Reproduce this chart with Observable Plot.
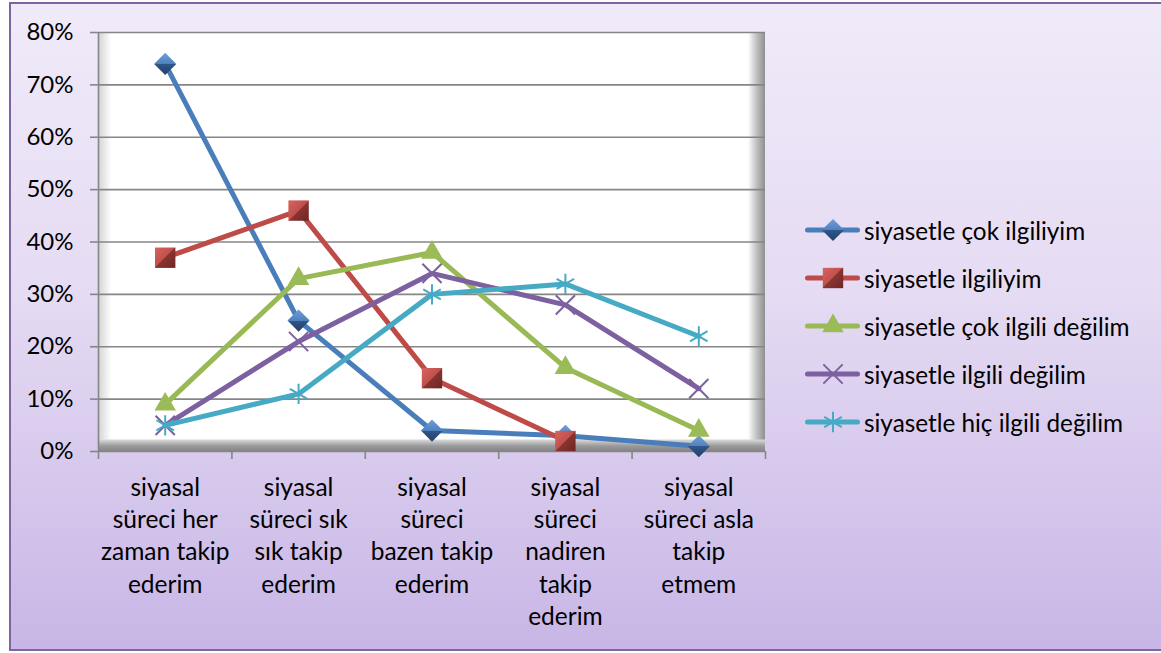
<!DOCTYPE html>
<html><head><meta charset="utf-8">
<script src="https://cdn.jsdelivr.net/npm/d3@7"></script>
<script src="https://cdn.jsdelivr.net/npm/@observablehq/plot@0.6"></script>
<style>
html,body{margin:0;padding:0;}
body{width:1161px;height:653px;position:relative;overflow:hidden;background:#fff;font-family:Lato,sans-serif;}
#frame{position:absolute;left:9px;top:2px;width:1160px;height:645px;border:2px solid #8064A2;border-right:none;
  background:linear-gradient(to bottom,#F0EAF9 0%,#E5DBF3 45%,#C8B6E6 100%);}
#wall{position:absolute;left:98px;top:32px;width:667px;height:419px;
  background:
    linear-gradient(to bottom, rgba(0,0,0,0) 407px, #d6d6d6 408px, #9a9a9a 414px, #858585 419px),
    linear-gradient(to right, rgba(255,255,255,0) 650px, #c4c4c4 658px, #8f8f8f 667px),
    linear-gradient(to right, #d2d2d2 0px, #ffffff 13px);
  background-color:#fff;}
#chart{position:absolute;left:0;top:0;}
#legend{position:absolute;left:805px;top:206px;font-family:Lato,sans-serif;font-size:24.3px;color:#000;}
#legend .row{display:flex;align-items:center;height:48px;white-space:nowrap;}
#legend svg{display:block;margin-right:0px;}
</style></head>
<body>
<div id="frame"></div>
<div id="wall"></div>
<div id="chart"></div>
<div id="legend"></div>
<script>
// ---- data ----
const categories = [
  "siyasal süreci her zaman takip ederim",
  "siyasal süreci sık sık takip ederim",
  "siyasal süreci bazen takip ederim",
  "siyasal süreci nadiren takip ederim",
  "siyasal süreci asla takip etmem"
];
const tickLabels = [
  "siyasal\nsüreci her\nzaman takip\nederim",
  "siyasal\nsüreci sık\nsık takip\nederim",
  "siyasal\nsüreci\nbazen takip\nederim",
  "siyasal\nsüreci\nnadiren\ntakip\nederim",
  "siyasal\nsüreci asla\ntakip\netmem"
];
const seriesNames = [
  "siyasetle çok ilgiliyim",
  "siyasetle ilgiliyim",
  "siyasetle çok ilgili değilim",
  "siyasetle ilgili değilim",
  "siyasetle hiç ilgili değilim"
];
const cokIlgiliyim     = [0.74, 0.25, 0.04, 0.03, 0.01];
const ilgiliyim        = [0.37, 0.46, 0.14, 0.02, null];
const cokIlgiliDegilim = [0.09, 0.33, 0.38, 0.16, 0.04];
const ilgiliDegilim    = [0.05, 0.21, 0.34, 0.28, 0.12];
const hicIlgiliDegilim = [0.05, 0.11, 0.30, 0.32, 0.22];
const yTicks = [0, 0.1, 0.2, 0.3, 0.4, 0.5, 0.6, 0.7, 0.8];

// ---- styles ----
const seriesValues = [cokIlgiliyim, ilgiliyim, cokIlgiliDegilim, ilgiliDegilim, hicIlgiliDegilim];
const styles = [
  {color:"#4A7EBB", symbol:"diamond2", d3symbol:d3.symbolDiamond2, r:10, fill:"url(#gDiamond)", stroke:"none", sw:0},
  {color:"#BE4B48", symbol:"square",   d3symbol:d3.symbolSquare,   r:11.5, fill:"url(#gSquare)", stroke:"none", sw:0},
  {color:"#98B954", symbol:"triangle", d3symbol:d3.symbolTriangle, r:8, fill:"#9BBB59", stroke:"none", sw:0},
  {color:"#7D60A0", symbol:"times",    d3symbol:d3.symbolTimes,    r:8.8, fill:"none", stroke:"#7D60A0", sw:2},
  {color:"#46AAC5", symbol:"asterisk", d3symbol:d3.symbolAsterisk, r:9.6, fill:"none", stroke:"#46AAC5", sw:2}
];

const rows = [];
seriesValues.forEach((vals, s) => vals.forEach((v, i) => rows.push({series: seriesNames[s], s, i, category: categories[i], value: v})));

const marks = [
  Plot.gridY(yTicks, {stroke:"#868686", strokeOpacity:1, strokeWidth:1.6}),
  Plot.ruleX([-0.5], {stroke:"#868686", strokeWidth:1.6}),
  Plot.axisY(yTicks, {tickSize:8, tickPadding:17, tickFormat:d => Math.round(d*100) + "%", stroke:"#868686", strokeWidth:1.6, fill:"#000", fontSize:24, label:null}),
  Plot.axisX([-0.5, 0.5, 1.5, 2.5, 3.5, 4.5], {tickSize:8, tickFormat:() => "", stroke:"#868686", strokeWidth:1.6, label:null}),
  Plot.axisX([0, 1, 2, 3, 4], {tickSize:0, tickPadding:22, tickFormat:i => tickLabels[i], fill:"#000", fontSize:24.5, lineHeight:1.31, label:null})
];
styles.forEach((st, s) => {
  const data = rows.filter(d => d.s === s);
  marks.push(Plot.line(data, {x:"i", y:"value", stroke:st.color, strokeWidth:5, strokeLinejoin:"round", strokeLinecap:"round"}));
  marks.push(Plot.dot(data.filter(d => d.value != null), {x:"i", y:"value", symbol:()=>st.symbol, r:st.r, fill:st.fill, stroke:st.stroke, strokeWidth:st.sw}));
});

const chart = Plot.plot({
  width:1161, height:653,
  marginLeft:98, marginRight:396, marginTop:32, marginBottom:202,
  x:{type:"linear", domain:[-0.5, 4.5]},
  y:{domain:[0, 0.8]},
  symbol:{type:"identity"},
  style:{background:"transparent", fontFamily:"Lato, sans-serif", fontSize:"24px", color:"#000"},
  marks
});

// gradients for 3D-looking markers
const defs = d3.select(chart).insert("defs", ":first-child");
const gd = defs.append("linearGradient").attr("id","gDiamond").attr("x1",0).attr("y1",0).attr("x2",0).attr("y2",1);
gd.append("stop").attr("offset","0%").attr("stop-color","#6E9FDA");
gd.append("stop").attr("offset","50%").attr("stop-color","#4F81BD");
gd.append("stop").attr("offset","50%").attr("stop-color","#30568A");
gd.append("stop").attr("offset","100%").attr("stop-color","#23406A");
const gs = defs.append("linearGradient").attr("id","gSquare").attr("x1",0).attr("y1",0).attr("x2",1).attr("y2",1);
gs.append("stop").attr("offset","0%").attr("stop-color","#D9625E");
gs.append("stop").attr("offset","50%").attr("stop-color","#C0504D");
gs.append("stop").attr("offset","50%").attr("stop-color","#8A3431");
gs.append("stop").attr("offset","100%").attr("stop-color","#6E2624");

document.getElementById("chart").appendChild(chart);

// legend
const legend = d3.select("#legend");
seriesNames.forEach((name, s) => {
  const st = styles[s];
  const row = legend.append("div").attr("class","row");
  const svg = row.append("svg").attr("width",59).attr("height",30);
  svg.append("line").attr("x1",2.5).attr("x2",52.5).attr("y1",15).attr("y2",15)
    .attr("stroke",st.color).attr("stroke-width",5).attr("stroke-linecap","round");
  svg.append("path").attr("transform","translate(28,15)")
    .attr("d", d3.symbol(st.d3symbol, Math.PI*st.r*st.r)())
    .attr("fill", st.fill).attr("stroke", st.stroke).attr("stroke-width", st.sw);
  row.append("span").text(name);
});
</script>
</body></html>
